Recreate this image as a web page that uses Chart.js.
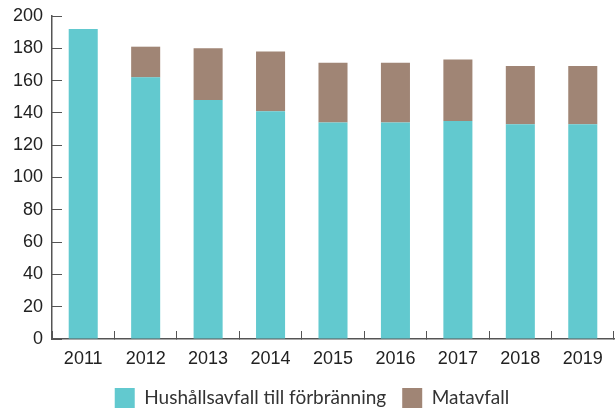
<!DOCTYPE html>
<html>
<head>
<meta charset="utf-8">
<script src="https://cdn.jsdelivr.net/npm/chart.js@4/dist/chart.umd.min.js"></script>
<style>
  html, body { margin: 0; padding: 0; background: #fff; }
  #wrap { width: 615px; height: 412px; }
</style>
</head>
<body>
<div id="wrap"><canvas id="wasteChart"></canvas></div>
<script>
// Data
const years = ['2011', '2012', '2013', '2014', '2015', '2016', '2017', '2018', '2019'];
const householdWaste = [192, 162, 148, 141, 134, 134, 135, 133, 133];
const foodWaste = [0, 19, 32, 37, 37, 37, 38, 36, 36];
const yTicks = [0, 20, 40, 60, 80, 100, 120, 140, 160, 180, 200];

const axisColor = '#555';
const textColor = '#222';
const tickFont = { family: "'Liberation Sans', Arial, sans-serif", size: 18 };

const ctx = document.getElementById('wasteChart').getContext('2d');
let chart = new Chart(ctx, {
  type: 'bar',
  data: {
    labels: years,
    datasets: [{
      label: 'Hushållsavfall till förbränning',
      data: householdWaste,
      backgroundColor: '#62c9cf'
    }, {
      label: 'Matavfall',
      data: foodWaste,
      backgroundColor: '#a08575'
    }]
  },
  options: {
    responsive: true,
    maintainAspectRatio: false,
    animation: false,
    layout: {
      padding: { top: 16, right: 1, left: 10, bottom: -6 }
    },
    plugins: {
      tooltip: { enabled: false },
      legend: {
        position: 'bottom',
        labels: {
          boxWidth: 20,
          boxHeight: 20,
          padding: 16,
          color: '#333',
          font: { family: "Lato, sans-serif", size: 19 }
        }
      }
    },
    datasets: {
      bar: { categoryPercentage: 1, barPercentage: 0.465 }
    },
    scales: {
      x: {
        stacked: true,
        border: { color: axisColor, width: 1.5 },
        grid: {
          offset: true,
          drawOnChartArea: false,
          tickLength: -8,
          color: axisColor
        },
        ticks: {
          padding: 17,
          color: textColor,
          font: tickFont
        },
        afterFit: function(scale) {
          scale.height = 33;
          scale.paddingLeft = 0;
          scale.paddingRight = 0;
        }
      },
      y: {
        stacked: true,
        min: 0,
        max: 200,
        border: { color: axisColor, width: 1.5 },
        grid: {
          drawOnChartArea: false,
          tickLength: -10,
          color: axisColor
        },
        afterBuildTicks: function(scale) {
          scale.ticks = yTicks.map(v => ({ value: v }));
        },
        ticks: {
          padding: 19,
          color: textColor,
          font: tickFont
        },
        afterFit: function(scale) {
          scale.width = 42;
          scale.paddingTop = 0;
          scale.paddingBottom = 0;
        }
      }
    }
  }
});
</script>
</body>
</html>
